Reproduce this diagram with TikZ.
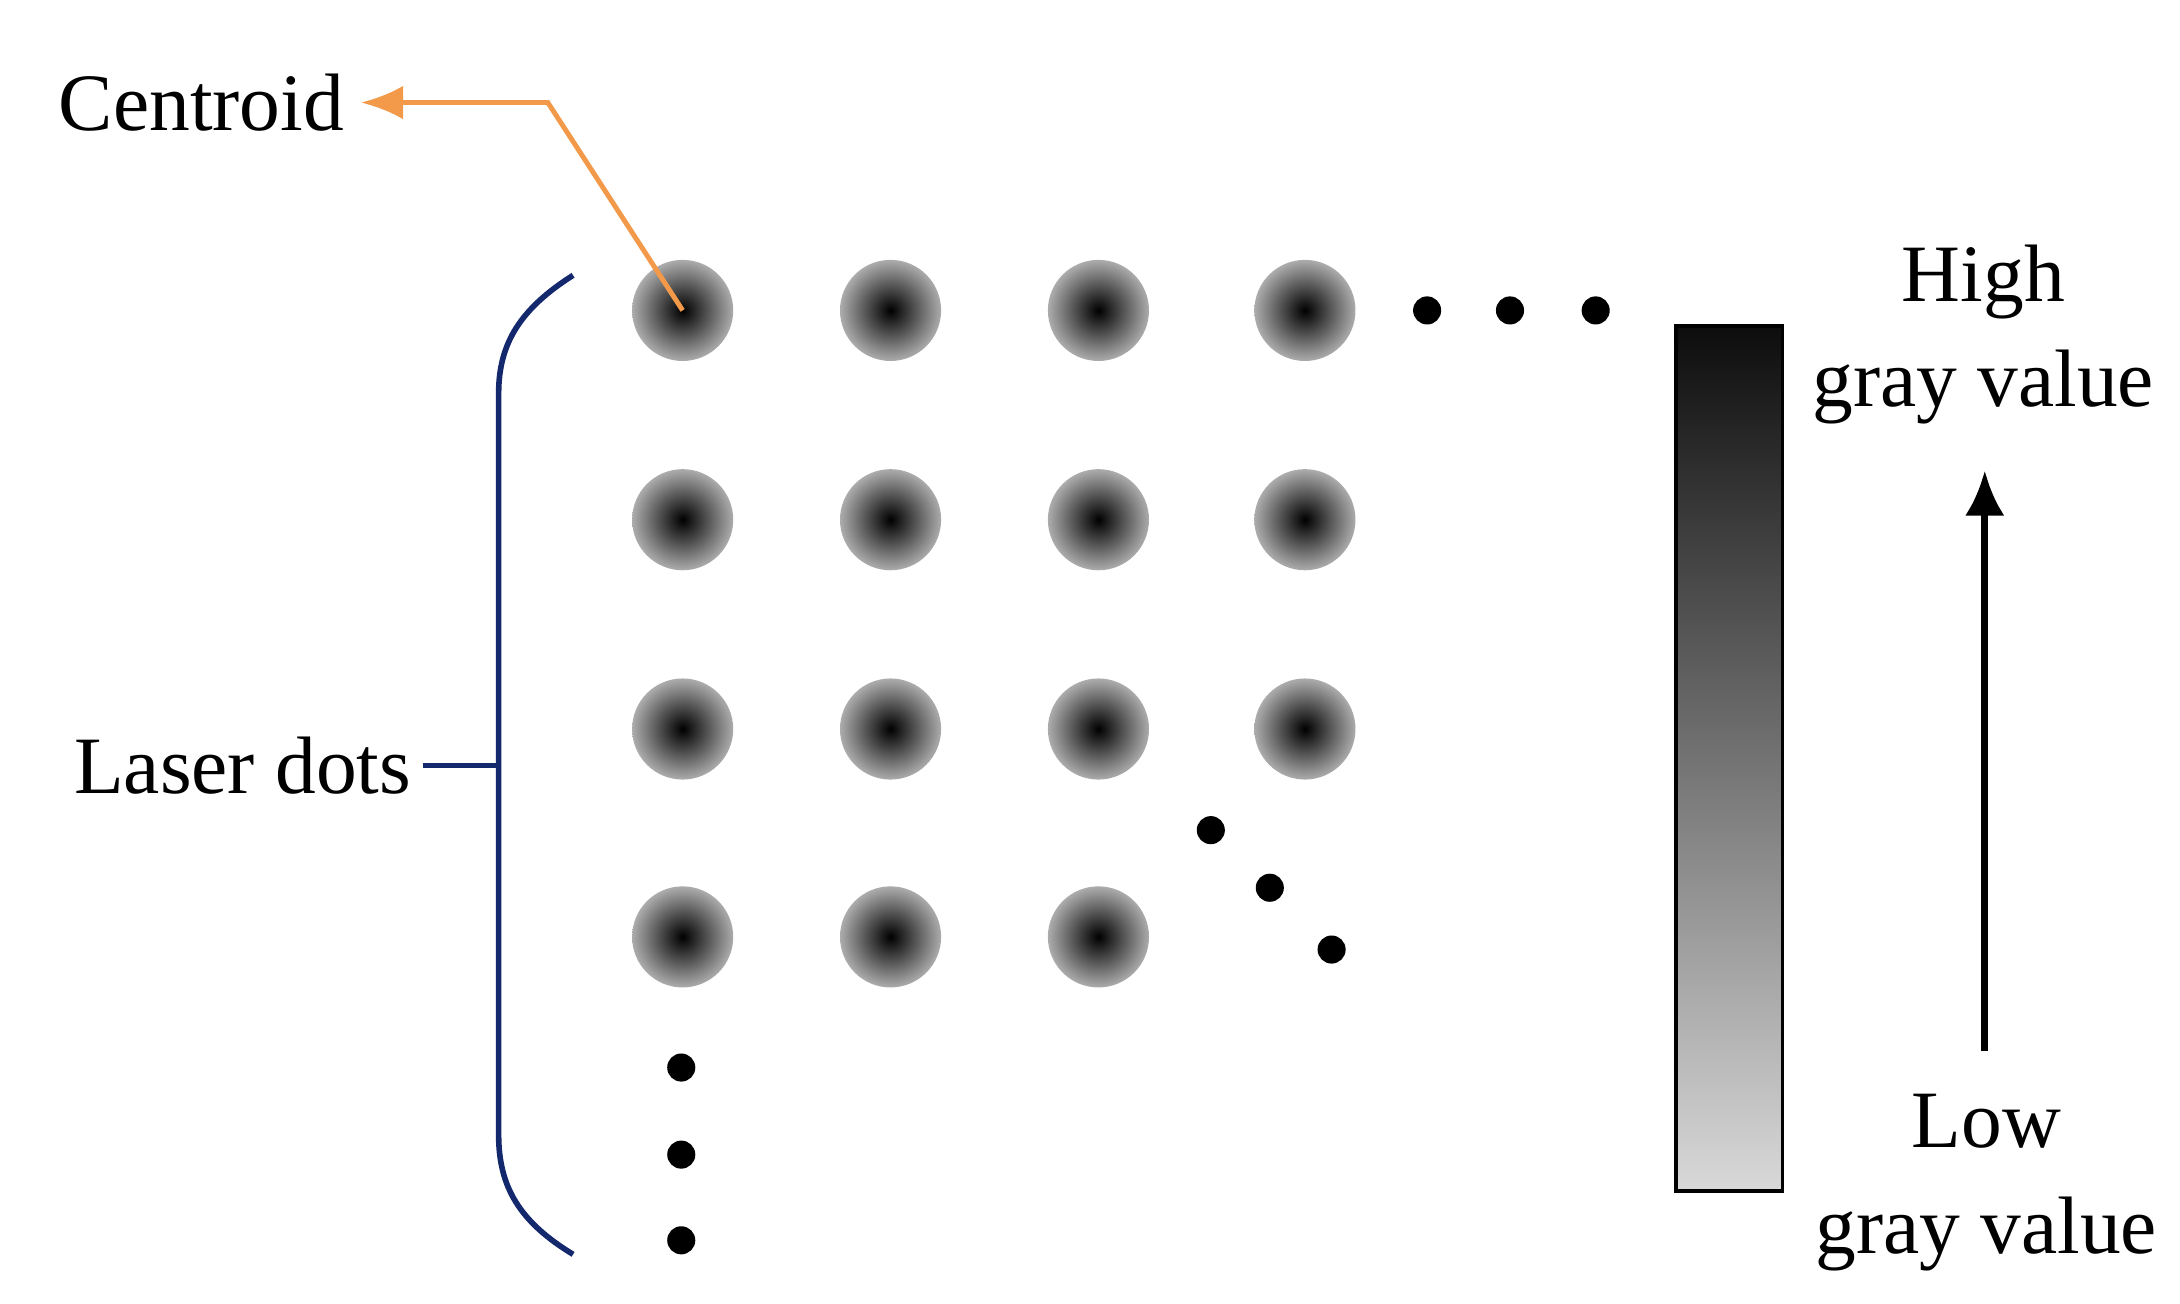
\documentclass[tikz,border=0pt]{standalone}
\usepackage{fontspec}
\setmainfont{Liberation Serif}
\usetikzlibrary{arrows.meta}
\begin{document}
\begin{tikzpicture}[x=1pt,y=-1pt,
  lbl/.style={font=\fontsize{58}{75}\selectfont, inner sep=0pt, align=center},
  spot/.style={circle, minimum size=72pt, inner sep=0pt, inner color=black, outer color=gray!65},
  bdot/.style={circle, fill=black, minimum size=20pt, inner sep=0pt}]
\useasboundingbox (0,0) rectangle (1552,928);
% grid of spots
\foreach \y [count=\r] in {221,370,519,667}{
  \foreach \x [count=\c] in {486,634,782,929}{
    \ifnum\r=4 \ifnum\c=4 \else \node[spot] (s\r\c) at (\x,\y) {}; \fi
    \else \node[spot] (s\r\c) at (\x,\y) {}; \fi
  }}
% ellipsis dots
\foreach \x/\y [count=\i] in {1016/221,1075/221,1136/221}{\node[bdot] (h\i) at (\x,\y) {};}
\foreach \x/\y [count=\i] in {862/591,904/632,948/676}{\node[bdot] (d\i) at (\x,\y) {};}
\foreach \x/\y [count=\i] in {485/760,485/822,485/883}{\node[bdot] (v\i) at (\x,\y) {};}
% Centroid
\node[lbl, anchor=east] (cen) at (245,73) {Centroid};
\coordinate (bend) at (390,73);
\draw[color={rgb,255:red,242;green,153;blue,74}, line width=3.5pt, -{Latex[length=30pt,width=24pt]}]
  (s11.center) -- (bend) -- ([xshift=12pt]cen.east);
% brace
\definecolor{navy}{RGB}{20,40,110}
\draw[navy, line width=4pt] (408,196) .. controls (370,220) and (355,245) .. (355,280)
  -- (355,808) .. controls (355,845) and (370,870) .. (408,893);
\node[lbl, anchor=east] (laser) at (293,545) {Laser dots};
\coordinate (tick) at (355,545);
\draw[navy, line width=4pt] ([xshift=8pt]laser.east) -- (tick);
% bar
\shade[top color=black!95, bottom color=black!15] (1193,232) rectangle (1269,848);
\draw[line width=2.5pt] (1193,232) rectangle (1269,848);
% arrow
\node[lbl] (high) at (1412,238) {High\\gray value};
\node[lbl] (low) at (1414,842) {Low\\gray value};
\coordinate (a1) at (1413,748);
\coordinate (a2) at (1413,335);
\draw[line width=5pt, -{Latex[length=32pt,width=28pt]}] (a1) -- (a2);
\end{tikzpicture}
\end{document}
